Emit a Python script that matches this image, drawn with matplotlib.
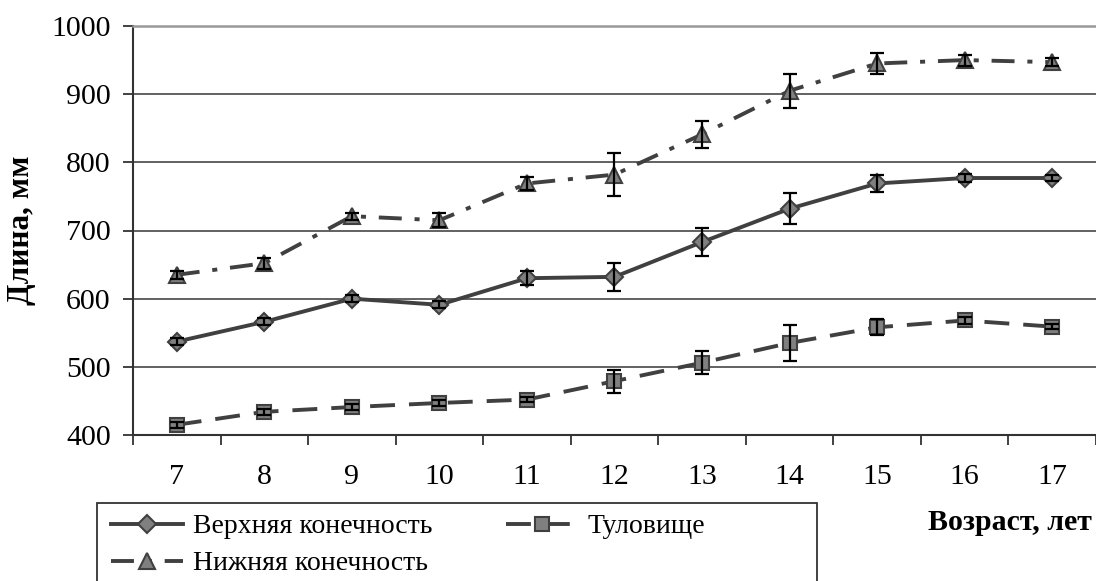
import matplotlib.pyplot as plt
from matplotlib.patches import Rectangle

plt.rcParams['font.family'] = ['Liberation Serif', 'DejaVu Serif']

# data
ages = [7, 8, 9, 10, 11, 12, 13, 14, 15, 16, 17]

upper = [537, 566, 600, 591, 630, 632, 683, 732, 769, 777, 777]
upper_err = [5, 5, 5, 5, 10, 21, 21, 23, 12, 6, 5]

trunk = [415, 434, 441, 447, 452, 479, 506, 535, 558, 568, 559]
trunk_err = [4, 4, 4, 4, 4, 17, 17, 26, 12, 5, 4]

lower = [635, 652, 721, 715, 769, 782, 841, 905, 945, 950, 947]
lower_err = [6, 8, 5, 10, 9, 32, 20, 25, 16, 8, 6]

y_ticks = [400, 500, 600, 700, 800, 900, 1000]

labels = {
  "upper": "Верхняя конечность",
  "trunk": "Туловище",
  "lower": "Нижняя конечность",
}

line_color = "#404040"
face_color = "#808080"

fig = plt.figure(figsize=(10.96, 5.81), dpi=100)
ax = fig.add_axes([133 / 1096, 1 - 435 / 581, 1 - 133 / 1096, (435 - 26) / 581])

#################### lines ########################################################
l_upper, = ax.plot(ages, upper, color=line_color, lw=2.8, marker="D", ms=9,
                   mfc=face_color, mec=line_color, mew=1.5, zorder=3, label=labels["upper"])
l_trunk, = ax.plot(ages, trunk, color=line_color, lw=2.8, dashes=(6.4, 3.6), marker="s", ms=10,
                   mfc=face_color, mec=line_color, mew=1.5, zorder=3, label=labels["trunk"])
l_lower, = ax.plot(ages, lower, color=line_color, lw=2.8, dashes=(5.9, 3.3, 1.3, 3.3), marker="^", ms=12,
                   mfc=face_color, mec=line_color, mew=1.5, zorder=3, label=labels["lower"])

# error bars drawn on top of markers
for vals, errs in [(upper, upper_err), (trunk, trunk_err), (lower, lower_err)]:
  ax.errorbar(ages, vals, yerr=errs, fmt="none", ecolor="black", elinewidth=1.6,
              capsize=5, capthick=1.6, zorder=4)
###################################################################################

#################### axes #########################################################
ax.set_xlim(6.5, 17.5)
ax.set_ylim(400, 1000)
ax.set_yticks(y_ticks)
ax.set_xticks(ages)
ax.set_xticks([a - 0.5 for a in ages] + [17.5], minor=True)
ax.yaxis.grid(True, color="#555555", lw=1.3)
ax.set_axisbelow(True)

ax.tick_params(axis="x", which="major", length=0, pad=21, labelsize=21.5)
ax.tick_params(axis="x", which="minor", length=7, width=1.3, color="#333333", direction="out")
ax.tick_params(axis="y", length=7, width=1.3, color="#333333", pad=9, labelsize=21.5)

for side in ["left", "bottom"]:
  ax.spines[side].set_color("#333333")
  ax.spines[side].set_linewidth(1.5)
ax.spines["right"].set_visible(False)
ax.spines["top"].set_color("#999999")
ax.spines["top"].set_linewidth(1.8)
###################################################################################

#################### labels / legend ##############################################
fig.text(22 / 1096, 1 - 230 / 581, "Длина, мм", rotation=90, fontsize=22.5,
         fontweight="bold", ha="center", va="center")
fig.text(1092 / 1096, 1 - 523 / 581, "Возраст, лет", fontsize=21.5,
         fontweight="bold", ha="right", va="center")

fig.patches.append(Rectangle((97 / 1096, -0.05), (817 - 97) / 1096, 0.05 + 1 - 503 / 581,
                             transform=fig.transFigure, fill=False, ec="#333333", lw=1.3))

fig.legend(handles=[l_upper, l_lower, l_trunk], ncol=2, loc="upper left",
           bbox_to_anchor=(97 / 1096, 1 - 500 / 581), frameon=False, fontsize=20,
           handlelength=2.6, handletextpad=0.35, columnspacing=2.65,
           borderpad=0.0, labelspacing=0.42)
###################################################################################

fig.savefig("out.png", dpi=100)
